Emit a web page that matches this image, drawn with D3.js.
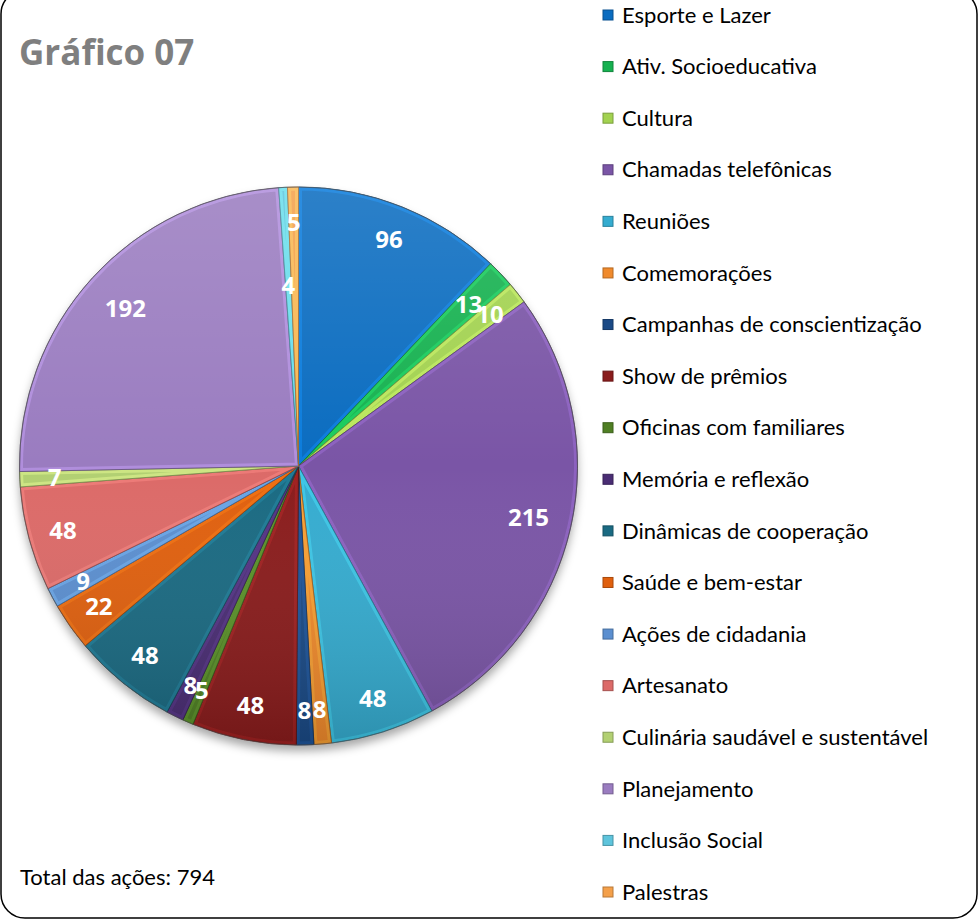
<!DOCTYPE html>
<html>
<head>
<meta charset="utf-8">
<script src="https://cdn.jsdelivr.net/npm/d3@7"></script>
<style>
  html, body { margin: 0; padding: 0; background: #fff; }
  svg { display: block; }
</style>
</head>
<body>
<div id="chart"></div>
<script>
// categorias e valores (sentido horário a partir do topo)
var categories = ['Esporte e Lazer', 'Ativ. Socioeducativa', 'Cultura', 'Chamadas telefônicas',
  'Reuniões', 'Comemorações', 'Campanhas de conscientização', 'Show de prêmios',
  'Oficinas com familiares', 'Memória e reflexão', 'Dinâmicas de cooperação',
  'Saúde e bem-estar', 'Ações de cidadania', 'Artesanato',
  'Culinária saudável e sustentável', 'Planejamento', 'Inclusão Social', 'Palestras'];
var values = [96, 13, 10, 215, 48, 8, 8, 48, 5, 8, 48, 22, 9, 48, 7, 192, 4, 5];
var colors = ['#0a6cc0', '#16b150', '#a2d250', '#7a55a6', '#35acd0', '#f08a2c',
  '#1a4a86', '#8a1c1c', '#4f7f24', '#4a2d74', '#1a6a82', '#e0600e',
  '#5b8fd0', '#dc6a68', '#b2d072', '#9a7cc0', '#5ec4dc', '#f4a04a'];
var title = 'Gráfico 07';
var totalLabel = 'Total das ações: ' + d3.sum(values);

var w = 979, h = 920;
var svg = d3.select('#chart').append('svg').attr('width', w).attr('height', h);
var defs = svg.append('defs');

// moldura arredondada
svg.append('rect')
  .attr('x', 1).attr('y', -10).attr('width', 976).attr('height', 928)
  .attr('rx', 24).attr('ry', 24)
  .attr('fill', '#fff').attr('stroke', '#000').attr('stroke-width', 1.5);

svg.append('text')
  .attr('x', 19).attr('y', 65)
  .attr('font-family', '"Open Sans", sans-serif').attr('font-weight', 700)
  .attr('font-size', 35).attr('fill', '#7f7f7f')
  .text(title);

svg.append('text')
  .attr('x', 20).attr('y', 885)
  .attr('font-family', 'Lato, sans-serif').attr('font-size', 22).attr('fill', '#000')
  .text(totalLabel);

// pizza
var cx = 298.5, cy = 466, r = 279;
var pie = d3.pie().sort(null).value(function(d){ return d; });
var arcs = pie(values);
var arc = d3.arc().innerRadius(0).outerRadius(r);

var shadow = defs.append('filter').attr('id', 'shadow')
  .attr('x', '-20%').attr('y', '-20%').attr('width', '140%').attr('height', '140%');
shadow.append('feDropShadow').attr('dx', 0).attr('dy', 6).attr('stdDeviation', 5)
  .attr('flood-color', '#000').attr('flood-opacity', 0.35);

var shade = defs.append('linearGradient').attr('id', 'shade')
  .attr('x1', 0).attr('y1', 0).attr('x2', 0).attr('y2', 1);
shade.append('stop').attr('offset', '0%').attr('stop-color', '#fff').attr('stop-opacity', 0.14);
shade.append('stop').attr('offset', '50%').attr('stop-color', '#fff').attr('stop-opacity', 0);
shade.append('stop').attr('offset', '100%').attr('stop-color', '#000').attr('stop-opacity', 0.16);

var plt = svg.append('g').attr('transform', 'translate(' + [cx, cy] + ')');

plt.append('circle').attr('r', r).attr('fill', '#888').attr('filter', 'url(#shadow)');

arcs.forEach(function(d, i){
  defs.append('clipPath').attr('id', 'clip' + i)
    .append('path').attr('d', arc(d));
});

var slice = plt.selectAll('.slice')
  .data(arcs)
  .enter().append('g')
  .attr('class', 'slice');

slice.append('path')
  .attr('d', arc)
  .attr('fill', function(d, i){ return colors[i]; });

// brilho do chanfro
slice.append('path')
  .attr('d', arc)
  .attr('fill', 'none')
  .attr('clip-path', function(d, i){ return 'url(#clip' + i + ')'; })
  .attr('stroke', function(d, i){ return d3.color(colors[i]).brighter(0.8); })
  .attr('stroke-width', 7)
  .attr('stroke-opacity', 0.45);

slice.append('path')
  .attr('d', arc)
  .attr('fill', 'none')
  .attr('stroke', function(d, i){ return d3.color(colors[i]).darker(1.2); })
  .attr('stroke-width', 1)
  .attr('stroke-opacity', 0.8);

plt.append('circle').attr('r', r).attr('fill', 'url(#shade)').attr('pointer-events', 'none');
plt.append('circle').attr('r', r).attr('fill', 'none').attr('stroke', '#555').attr('stroke-opacity', 0.6);

// rótulos de dados
var labelR = { 'Inclusão Social': 0.65, 'Chamadas telefônicas': 0.845, 'Planejamento': 0.84, 'Ativ. Socioeducativa': 0.84 };
plt.selectAll('.lbl')
  .data(arcs)
  .enter().append('text')
  .attr('class', 'lbl')
  .attr('transform', function(d, i){
    var k = labelR[categories[i]] || 0.875;
    var a = (d.startAngle + d.endAngle) / 2;
    return 'translate(' + [Math.sin(a) * r * k, -Math.cos(a) * r * k] + ')';
  })
  .attr('text-anchor', 'middle')
  .attr('dy', '0.36em')
  .attr('font-family', '"Open Sans", sans-serif').attr('font-weight', 700)
  .attr('font-size', 24).attr('fill', '#fff')
  .text(function(d){ return d.data; });

// legenda
var legY = d3.scalePoint().domain(categories).range([15, 892]);
var leg = svg.selectAll('.leg')
  .data(categories)
  .enter().append('g')
  .attr('class', 'leg')
  .attr('transform', function(d){ return 'translate(' + [603, legY(d)] + ')'; });

leg.append('rect')
  .attr('x', 0).attr('y', -5).attr('width', 10).attr('height', 10)
  .attr('fill', function(d, i){ return colors[i]; })
  .attr('stroke', function(d, i){ return d3.color(colors[i]).darker(0.8); })
  .attr('stroke-width', 1);

leg.append('text')
  .attr('x', 19).attr('dy', '0.35em')
  .attr('font-family', 'Lato, sans-serif').attr('font-size', 22).attr('fill', '#000')
  .text(function(d){ return d; });
</script>
</body>
</html>
